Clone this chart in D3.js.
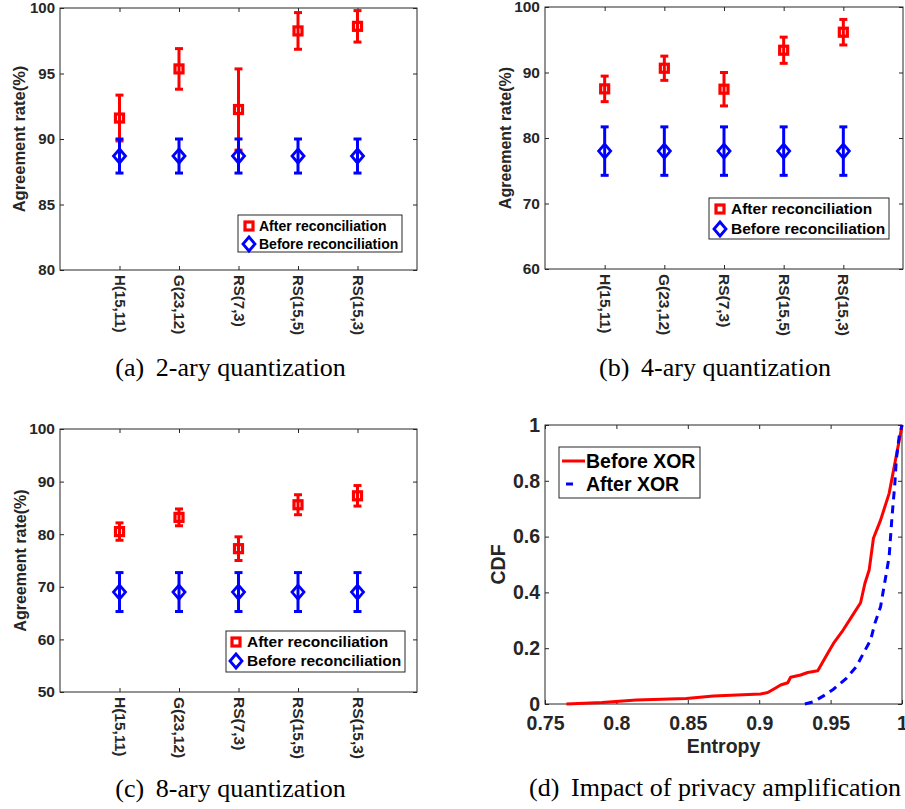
<!DOCTYPE html>
<html>
<head>
<meta charset="utf-8">
<script src="https://cdn.jsdelivr.net/npm/d3@7"></script>
<style>
  body { margin: 0; background: #fff; }
  svg text { font-family: "Liberation Sans", Arial, Helvetica, sans-serif; }
  svg text.caption { font-family: "Liberation Serif", "Times New Roman", serif; font-weight: normal; }
</style>
</head>
<body>
<svg id="chart" width="905" height="809"></svg>
<script>
// ---- data ----
const codes = ["H(15,11)", "G(23,12)", "RS(7,3)", "RS(15,5)", "RS(15,3)"];
const legendNames = ["After reconciliation", "Before reconciliation"];

// (a) 2-ary
const after2 = [91.6, 95.35, 92.25, 98.25, 98.6];
const after2Err = [1.75, 1.55, 3.1, 1.4, 1.2];
const before2 = [88.7, 88.7, 88.7, 88.7, 88.7];
const before2Err = [1.3, 1.3, 1.3, 1.3, 1.3];
const yTicks2 = [80, 85, 90, 95, 100];

// (b) 4-ary
const after4 = [87.5, 90.65, 87.45, 93.4, 96.15];
const after4Err = [1.95, 1.85, 2.55, 2.0, 1.95];
const before4 = [78.0, 78.0, 78.0, 78.0, 78.0];
const before4Err = [3.7, 3.7, 3.7, 3.7, 3.7];
const yTicks4 = [60, 70, 80, 90, 100];

// (c) 8-ary
const after8 = [80.5, 83.2, 77.25, 85.6, 87.3];
const after8Err = [1.65, 1.6, 2.25, 1.9, 1.95];
const before8 = [69.0, 69.0, 69.0, 69.0, 69.0];
const before8Err = [3.7, 3.7, 3.7, 3.7, 3.7];
const yTicks8 = [50, 60, 70, 80, 90, 100];

// (d) CDF of entropy
const entropyBefore = [0.765, 0.790, 0.814, 0.849, 0.868, 0.901, 0.906, 0.910, 0.915, 0.920, 0.922, 0.929, 0.934, 0.941, 0.944, 0.948, 0.952, 0.958, 0.964, 0.971, 0.974, 0.977, 0.980, 0.985, 0.991, 0.995, 0.999, 1.0];
const cdfBefore = [0.0, 0.005, 0.014, 0.020, 0.029, 0.036, 0.041, 0.053, 0.068, 0.076, 0.096, 0.104, 0.113, 0.119, 0.146, 0.182, 0.217, 0.259, 0.307, 0.363, 0.432, 0.480, 0.594, 0.659, 0.755, 0.863, 0.970, 1.0];
const entropyAfter = [0.932, 0.938, 0.945, 0.952, 0.961, 0.968, 0.973, 0.978, 0.981, 0.985, 0.987, 0.989, 0.991, 0.992, 0.993, 0.995, 0.996, 0.998, 1.0];
const cdfAfter = [0.0, 0.008, 0.029, 0.053, 0.092, 0.134, 0.182, 0.229, 0.289, 0.349, 0.409, 0.468, 0.528, 0.600, 0.671, 0.791, 0.875, 0.958, 1.0];
const entropyTicks = [0.75, 0.8, 0.85, 0.9, 0.95, 1];
const cdfTicks = [0, 0.2, 0.4, 0.6, 0.8, 1];
const cdfNames = ["Before XOR", "After XOR"];

const axisColor = "#262626";
const red = "#ff0000", blue = "#0000ff";

const svg = d3.select("#chart");

// box + inside ticks on all four sides, like matlab "box on"
function frame(g, x, y, xTicks, yTicks, o) {
    g.append("rect")
        .attr("x", x.range()[0]).attr("y", y.range()[1])
        .attr("width", x.range()[1] - x.range()[0])
        .attr("height", y.range()[0] - y.range()[1])
        .attr("fill", "none").attr("stroke", axisColor).attr("stroke-width", 1);

    const bottom = g.append("g")
        .attr("transform", "translate(0," + y.range()[0] + ")")
        .call(d3.axisBottom(x).tickValues(xTicks).tickFormat(o.xFormat)
            .tickSizeInner(-4).tickSizeOuter(0).tickPadding(o.xPad));
    const left = g.append("g")
        .attr("transform", "translate(" + x.range()[0] + ",0)")
        .call(d3.axisLeft(y).tickValues(yTicks).tickFormat(d => String(d))
            .tickSizeInner(-4).tickSizeOuter(0).tickPadding(5));
    g.append("g")
        .attr("transform", "translate(0," + y.range()[1] + ")")
        .call(d3.axisTop(x).tickValues(xTicks).tickFormat("").tickSizeInner(-4).tickSizeOuter(0));
    g.append("g")
        .attr("transform", "translate(" + x.range()[1] + ",0)")
        .call(d3.axisRight(y).tickValues(yTicks).tickFormat("").tickSizeInner(-4).tickSizeOuter(0));

    g.selectAll(".domain").remove();
    g.selectAll(".tick line").attr("stroke", axisColor);
    [bottom, left].forEach(a => a.attr("font-family", null).attr("font-size", o.tickSize)
        .attr("font-weight", "bold"));
    g.selectAll(".tick text").attr("fill", axisColor);
    return {bottom, left};
}

function squareMark(sel) {
    sel.append("rect").attr("x", -4).attr("y", -4).attr("width", 8).attr("height", 8)
        .attr("fill", "none").attr("stroke", red).attr("stroke-width", 3.2);
}
function diamondMark(sel) {
    sel.append("path").attr("d", "M0,-7L6,0L0,7L-6,0Z")
        .attr("fill", "none").attr("stroke", blue).attr("stroke-width", 2.8);
}

function errorSeries(g, x, y, vals, errs, color, mark) {
    const pts = g.append("g").selectAll("g").data(vals).enter().append("g")
        .attr("transform", (d, i) => "translate(" + x(i + 1) + ",0)");
    pts.append("line").attr("y1", (d, i) => y(d - errs[i])).attr("y2", (d, i) => y(d + errs[i]))
        .attr("stroke", color).attr("stroke-width", 3);
    [-1, 1].forEach(s => {
        pts.append("line").attr("x1", -4).attr("x2", 4)
            .attr("y1", (d, i) => y(d + s * errs[i])).attr("y2", (d, i) => y(d + s * errs[i]))
            .attr("stroke", color).attr("stroke-width", 3);
    });
    pts.append("g").attr("transform", d => "translate(0," + y(d) + ")").call(mark);
}

function errorPanel(p) {
    const g = svg.append("g");
    const x = d3.scaleLinear().domain([0, codes.length + 1]).range([p.left, p.right]);
    const y = d3.scaleLinear().domain(d3.extent(p.yTicks)).range([p.bottom, p.top]);

    const ax = frame(g, x, y, d3.range(1, codes.length + 1), p.yTicks,
        {xFormat: i => codes[i - 1], xPad: 5, tickSize: p.tickSize});
    ax.bottom.selectAll(".tick text")
        .attr("y", 0).attr("x", 5).attr("dy", "0.35em")
        .attr("transform", "rotate(90)")
        .style("text-anchor", "start");

    g.append("text")
        .attr("transform", "translate(" + p.labelX + "," + ((p.top + p.bottom) / 2) + ") rotate(-90)")
        .attr("text-anchor", "middle").attr("dy", "0.35em")
        .attr("font-size", p.labelSize).attr("font-weight", "bold").attr("fill", axisColor)
        .text("Agreement rate(%)");

    errorSeries(g, x, y, p.after, p.afterErr, red, squareMark);
    errorSeries(g, x, y, p.before, p.beforeErr, blue, diamondMark);

    // legend
    const L = p.legend;
    g.append("rect").attr("x", L.x).attr("y", L.y).attr("width", L.w).attr("height", L.h)
        .attr("fill", "#fff").attr("stroke", axisColor).attr("stroke-width", 1);
    [squareMark, diamondMark].forEach((m, i) => {
        const row = g.append("g").attr("transform", "translate(" + L.markX + "," + L.rows[i] + ")");
        row.call(m);
        row.append("text").attr("x", L.textX - L.markX).attr("dy", "0.35em")
            .attr("font-size", L.size).attr("font-weight", "bold").attr("fill", "#000")
            .text(legendNames[i]);
    });

    g.append("text").attr("class", "caption")
        .attr("x", (p.left + p.right) / 2 + p.capShift).attr("y", p.capY)
        .attr("text-anchor", "middle").attr("font-size", 26).attr("fill", "#000")
        .text(p.tag).append("tspan").attr("dx", "0.45em").text(p.caption);
}

errorPanel({
    left: 60, right: 417, top: 8, bottom: 270, yTicks: yTicks2,
    after: after2, afterErr: after2Err, before: before2, beforeErr: before2Err,
    tickSize: 15, labelSize: 16.5, labelX: 19,
    legend: {x: 238, y: 215, w: 164, h: 37, markX: 249, textX: 259, rows: [226, 244], size: 14},
    tag: "(a)", caption: "2-ary quantization", capY: 376, capShift: -8
});

errorPanel({
    left: 545, right: 903, top: 7, bottom: 269, yTicks: yTicks4,
    after: after4, afterErr: after4Err, before: before4, beforeErr: before4Err,
    tickSize: 15.5, labelSize: 16, labelX: 505,
    legend: {x: 709, y: 198, w: 180, h: 41, markX: 720, textX: 731, rows: [209, 229], size: 15.5},
    tag: "(b)", caption: "4-ary quantization", capY: 376, capShift: -9
});

errorPanel({
    left: 60, right: 417, top: 429, bottom: 692, yTicks: yTicks8,
    after: after8, afterErr: after8Err, before: before8, beforeErr: before8Err,
    tickSize: 15.5, labelSize: 16, labelX: 20,
    legend: {x: 226, y: 631, w: 179, h: 41, markX: 236, textX: 247, rows: [642, 661], size: 15.5},
    tag: "(c)", caption: "8-ary quantization", capY: 797, capShift: -8
});

// ---- (d) CDF panel ----
(function () {
    const left = 545, right = 902, top = 425, bottom = 704;
    const g = svg.append("g");
    const x = d3.scaleLinear().domain([0.75, 1]).range([left, right]);
    const y = d3.scaleLinear().domain([0, 1]).range([bottom, top]);

    frame(g, x, y, entropyTicks, cdfTicks, {xFormat: d => String(d), xPad: 12, tickSize: 19.5});

    const line = d3.line().x(d => x(d[0])).y(d => y(d[1]));
    g.append("path").datum(d3.zip(entropyBefore, cdfBefore)).attr("d", line)
        .attr("fill", "none").attr("stroke", red).attr("stroke-width", 3).attr("stroke-linejoin", "round");
    g.append("path").datum(d3.zip(entropyAfter, cdfAfter)).attr("d", line)
        .attr("fill", "none").attr("stroke", blue).attr("stroke-width", 3).attr("stroke-dasharray", "8,6");

    g.append("text").attr("x", (left + right) / 2).attr("y", 753)
        .attr("text-anchor", "middle").attr("font-size", 19.5).attr("font-weight", "bold").attr("fill", axisColor)
        .text("Entropy");
    g.append("text").attr("transform", "translate(498," + ((top + bottom) / 2) + ") rotate(-90)")
        .attr("text-anchor", "middle").attr("dy", "0.35em")
        .attr("font-size", 19.5).attr("font-weight", "bold").attr("fill", axisColor)
        .text("CDF");

    // legend
    g.append("rect").attr("x", 559).attr("y", 447).attr("width", 141).attr("height", 51)
        .attr("fill", "#fff").attr("stroke", axisColor).attr("stroke-width", 1);
    g.append("line").attr("x1", 562).attr("x2", 585).attr("y1", 461).attr("y2", 461)
        .attr("stroke", red).attr("stroke-width", 3);
    g.append("line").attr("x1", 566).attr("x2", 573).attr("y1", 484).attr("y2", 484)
        .attr("stroke", blue).attr("stroke-width", 3);
    [461, 484].forEach((yy, i) => {
        g.append("text").attr("x", 586).attr("y", yy).attr("dy", "0.35em")
            .attr("font-size", 19.5).attr("font-weight", "bold").attr("fill", "#000")
            .text(cdfNames[i]);
    });

    g.append("text").attr("class", "caption")
        .attr("x", 715).attr("y", 796)
        .attr("text-anchor", "middle").attr("font-size", 26).attr("fill", "#000")
        .text("(d)").append("tspan").attr("dx", "0.45em").text("Impact of privacy amplification");
})();
</script>
</body>
</html>
